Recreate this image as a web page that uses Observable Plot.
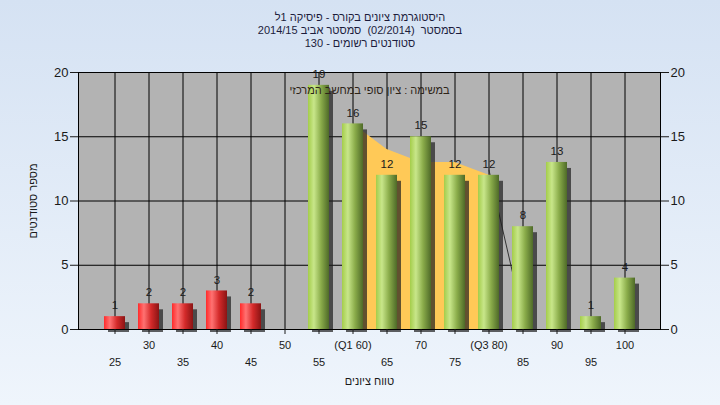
<!DOCTYPE html>
<html><head><meta charset="utf-8">
<script src="https://cdn.jsdelivr.net/npm/d3@7"></script>
<script src="https://cdn.jsdelivr.net/npm/@observablehq/plot@0.6"></script>
<style>
html,body{margin:0;padding:0;}
body{width:720px;height:405px;overflow:hidden;position:relative;background:linear-gradient(#d5e2f3,#eff5fc);font-family:"Liberation Sans",Arial,sans-serif;}
#title{position:absolute;left:0;top:11px;width:720px;text-align:center;direction:rtl;font-size:11px;line-height:13px;color:#1c1c3c;white-space:pre;}
#ytitle{position:absolute;left:33px;top:201px;transform:translate(-50%,-50%) rotate(-90deg);direction:rtl;font-size:11px;color:#1a1a1a;white-space:nowrap;}
#chart{position:absolute;left:0;top:0;}
</style></head><body>
<svg width="0" height="0" style="position:absolute">
<defs>
<linearGradient id="gGreen" x1="0" x2="1" y1="0" y2="0">
 <stop offset="0" stop-color="#a4cd4a"/><stop offset="0.28" stop-color="#c8e68a"/><stop offset="0.62" stop-color="#8aac4a"/><stop offset="1" stop-color="#4e6a28"/>
</linearGradient>
<linearGradient id="gRed" x1="0" x2="1" y1="0" y2="0">
 <stop offset="0" stop-color="#ff2a2a"/><stop offset="0.28" stop-color="#ff7272"/><stop offset="0.62" stop-color="#d42a2a"/><stop offset="1" stop-color="#8a1414"/>
</linearGradient>
<filter id="blur" x="-50%" y="-20%" width="200%" height="140%"><feGaussianBlur stdDeviation="2.2"/></filter>
</defs></svg>
<div id="chart"></div>
<div id="title"></div>
<div id="ytitle"></div>
<script>
const grades = ["25","30","35","40","45","50","55","60","65","70","75","80","85","90","95","100"];
const counts = [1,2,2,3,2,0,19,16,12,15,12,12,8,13,1,4];
const passMark = 55;
const xTickLabels = ["25","30","35","40","45","50","55","(Q1 60)","65","70","75","(Q3 80)","85","90","95","100"];
const upperRow = ["30","40","50","60","70","80","90","100"];
const lowerRow = ["25","35","45","55","65","75","85","95"];
const iqrGrades = ["60","65","70","75","80"];
const iqrValues = [16,14,13,13,12];
const tailGrades = ["80","85"];
const tailValues = [12.4,0.9];
const yTicks = [0,5,10,15,20];
const gridY = [5,10,15,20];
const titleLines = [
  "היסטוגרמת ציונים בקורס - פיסיקה 1ל",
  "בסמסטר  (02/2014)  סמסטר אביב 2014/15",
  "סטודנטים רשומים - 130"
];
const noteText = "במשימה : ציון סופי במחשב המרכזי";
const xTitle = "טווח ציונים";
const yTitle = "מספר סטודנטים";

const titleEl = document.getElementById("title");
titleLines.forEach(line => {
  const div = document.createElement("div");
  div.textContent = line;
  titleEl.appendChild(div);
});
document.getElementById("ytitle").textContent = yTitle;

const bars = grades.map((g,i)=>({grade:g, count:counts[i], fail:+g < passMark}));
const iqr = iqrGrades.map((g,i)=>({grade:g, v:iqrValues[i]}));
const tail = tailGrades.map((g,i)=>({grade:g, v:tailValues[i]}));
const fmt = d => xTickLabels[grades.indexOf(d)];

const chart = Plot.plot({
  width:720, height:405,
  marginTop:72, marginBottom:76, marginLeft:78, marginRight:60,
  style:{background:"transparent", fontFamily:"Liberation Sans, Arial, sans-serif", fontSize:"12px", color:"#1a1a1a"},
  x:{type:"band", domain:grades, paddingInner:0.386, paddingOuter:0.703, axis:null},
  y:{domain:[0,20], axis:null},
  marks:[
    Plot.frame({fill:"#b3b3b3", stroke:"black"}),
    Plot.ruleY(gridY, {stroke:"black"}),
    Plot.ruleX(grades, {x:d=>d, stroke:"black"}),
    Plot.areaY(iqr, {x:"grade", y:"v", fill:"#ffc957"}),
    Plot.lineY(tail, {x:"grade", y:"v", stroke:"#333", strokeWidth:1}),
    Plot.barY(bars, {x:"grade", y:"count", fill:"#1e1e1e", fillOpacity:0.7, dx:4, dy:3, insetTop:3, ariaLabel:"shadow"}),
    Plot.barY(bars, {filter:d=>d.fail, x:"grade", y:"count", fill:"url(#gRed)"}),
    Plot.barY(bars, {filter:d=>!d.fail, x:"grade", y:"count", fill:"url(#gGreen)"}),
    Plot.ruleY([0], {stroke:"black"}),
    Plot.text(bars, {filter:d=>d.count>0, x:"grade", y:"count", text:d=>String(d.count), dy:-11, fill:"#1a1a1a", fontSize:11.5}),
    Plot.text([noteText], {frameAnchor:"top", dy:14, fill:"#2e2418", fontSize:11}),
    Plot.axisY(yTicks, {anchor:"left", tickSize:8, tickPadding:2, fontSize:13, label:null}),
    Plot.axisY(yTicks, {anchor:"right", tickSize:8, tickPadding:2, fontSize:13, label:null}),
    Plot.axisX(grades, {anchor:"bottom", tickSize:5, tickFormat:()=>"", label:null}),
    Plot.axisX(upperRow, {anchor:"bottom", tickSize:0, tickPadding:12, tickFormat:fmt, label:null, fontSize:11}),
    Plot.axisX(lowerRow, {anchor:"bottom", tickSize:0, tickPadding:29, tickFormat:fmt, label:null, fontSize:11}),
    Plot.text([xTitle], {frameAnchor:"bottom", dy:55, fill:"#1a1a1a", fontSize:11})
  ]
});
d3.select(chart).selectAll('g[aria-label="shadow"]').attr("filter","url(#blur)");
document.getElementById("chart").appendChild(chart);
</script>
</body></html>
